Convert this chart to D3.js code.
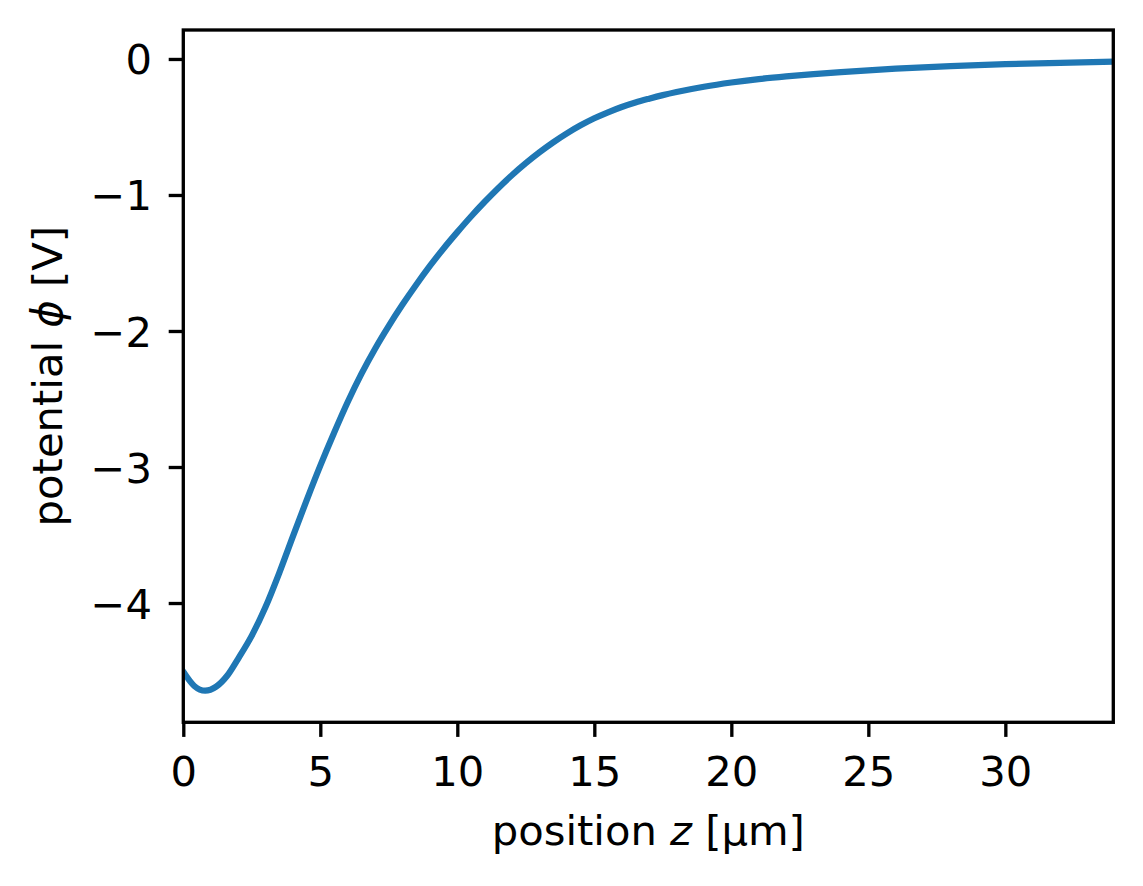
<!DOCTYPE html>
<html>
<head>
<meta charset="utf-8">
<script src="https://cdn.jsdelivr.net/npm/d3@7"></script>
<style>
  html, body { margin: 0; padding: 0; background: #ffffff; }
  svg { display: block; }
  text { font-family: "DejaVu Sans", sans-serif; fill: #000; }
</style>
</head>
<body>
<svg id="chart" width="1143" height="886"></svg>
<script>
// ---- data ----
const positionZ = [0, 0.4, 0.8, 1.2, 1.6, 2.0, 2.5, 3.0, 3.5, 4.0, 4.5, 5.0, 5.5, 6.0, 6.5, 7.0, 7.5, 8.0, 8.5, 9.0, 9.5, 10.0, 10.5, 11.0, 11.5, 12.0, 12.5, 13.0, 13.5, 14.0, 14.5, 15.0, 15.5, 16.0, 16.5, 17.0, 17.5, 18.0, 19, 20, 21, 22, 23, 24, 26, 28, 30, 32, 34];
const potentialPhi = [-4.505, -4.61, -4.645, -4.615, -4.535, -4.41, -4.24, -4.03, -3.78, -3.51, -3.245, -2.99, -2.75, -2.522, -2.315, -2.13, -1.962, -1.806, -1.66, -1.522, -1.393, -1.273, -1.158, -1.05, -0.948, -0.853, -0.766, -0.686, -0.613, -0.547, -0.488, -0.436, -0.392, -0.353, -0.32, -0.292, -0.266, -0.243, -0.204, -0.173, -0.148, -0.128, -0.111, -0.096, -0.071, -0.052, -0.038, -0.028, -0.020];
const xTicks = [0, 5, 10, 15, 20, 25, 30];
const yTicks = [0, -1, -2, -3, -4];
const xDomain = [0, 33.94];
const yDomain = [-4.877, 0.213];
const xLabelText = ["position ", "z", " [μm]"];
const yLabelText = ["potential ", "ϕ", " [V]"];

(function () {
// ---- layout ----
const mLeft = 183.3, mRight = 1113.3, mTop = 30, mBottom = 722.3;
const fontSize = 41.7;
const tickLen = 14.6, tickPad = 14.6;
const spineW = 3.33;

const svg = d3.select("#chart");
const x = d3.scaleLinear().domain(xDomain).range([mLeft, mRight]);
const y = d3.scaleLinear().domain(yDomain).range([mBottom, mTop]);

// clip
svg.append("defs").append("clipPath").attr("id", "clip")
  .append("rect").attr("x", mLeft).attr("y", mTop).attr("width", mRight - mLeft).attr("height", mBottom - mTop);

// line
const pts = positionZ.map((z, i) => [z, potentialPhi[i]]);
const line = d3.line().x(d => x(d[0])).y(d => y(d[1])).curve(d3.curveMonotoneX);
svg.append("path").datum(pts)
  .attr("clip-path", "url(#clip)")
  .attr("d", line)
  .attr("fill", "none")
  .attr("stroke", "#1f77b4")
  .attr("stroke-width", 6.25)
  .attr("stroke-linecap", "square")
  .attr("stroke-linejoin", "round");

const fmt = v => (v < 0 ? "\u2212" + Math.abs(v) : String(v));

// x axis
const xAxis = d3.axisBottom(x).tickValues(xTicks).tickSize(tickLen).tickPadding(tickPad).tickFormat(fmt);
const gx = svg.append("g").attr("transform", `translate(0,${mBottom})`).call(xAxis);
gx.select(".domain").remove();
gx.selectAll(".tick line").attr("stroke", "#000").attr("stroke-width", spineW);
gx.selectAll(".tick text").attr("font-size", fontSize).attr("font-family", "DejaVu Sans")
  .attr("dy", null).attr("y", 786 - mBottom);

// y axis
const yAxis = d3.axisLeft(y).tickValues(yTicks).tickSize(tickLen).tickPadding(tickPad).tickFormat(fmt);
const gy = svg.append("g").attr("transform", `translate(${mLeft},0)`).call(yAxis);
gy.select(".domain").remove();
gy.selectAll(".tick line").attr("stroke", "#000").attr("stroke-width", spineW);
gy.selectAll(".tick text").attr("font-size", fontSize).attr("font-family", "DejaVu Sans")
  .attr("x", 152 - mLeft).attr("dy", "0.36em");

// spines
svg.append("rect").attr("x", mLeft).attr("y", mTop).attr("width", mRight - mLeft).attr("height", mBottom - mTop)
  .attr("fill", "none").attr("stroke", "#000").attr("stroke-width", spineW).attr("stroke-linejoin", "miter");

// x label
const xl = svg.append("text").attr("x", (mLeft + mRight) / 2).attr("y", 845)
  .attr("text-anchor", "middle").attr("font-size", fontSize);
xLabelText.forEach((t, i) => xl.append("tspan").text(t).attr("font-style", i === 1 ? "italic" : "normal"));

// y label
const yl = svg.append("text")
  .attr("transform", `translate(62,${(mTop + mBottom) / 2}) rotate(-90)`)
  .attr("text-anchor", "middle").attr("font-size", fontSize);
yLabelText.forEach((t, i) => yl.append("tspan").text(t).attr("font-style", i === 1 ? "italic" : "normal"));
})();
</script>
</body>
</html>
